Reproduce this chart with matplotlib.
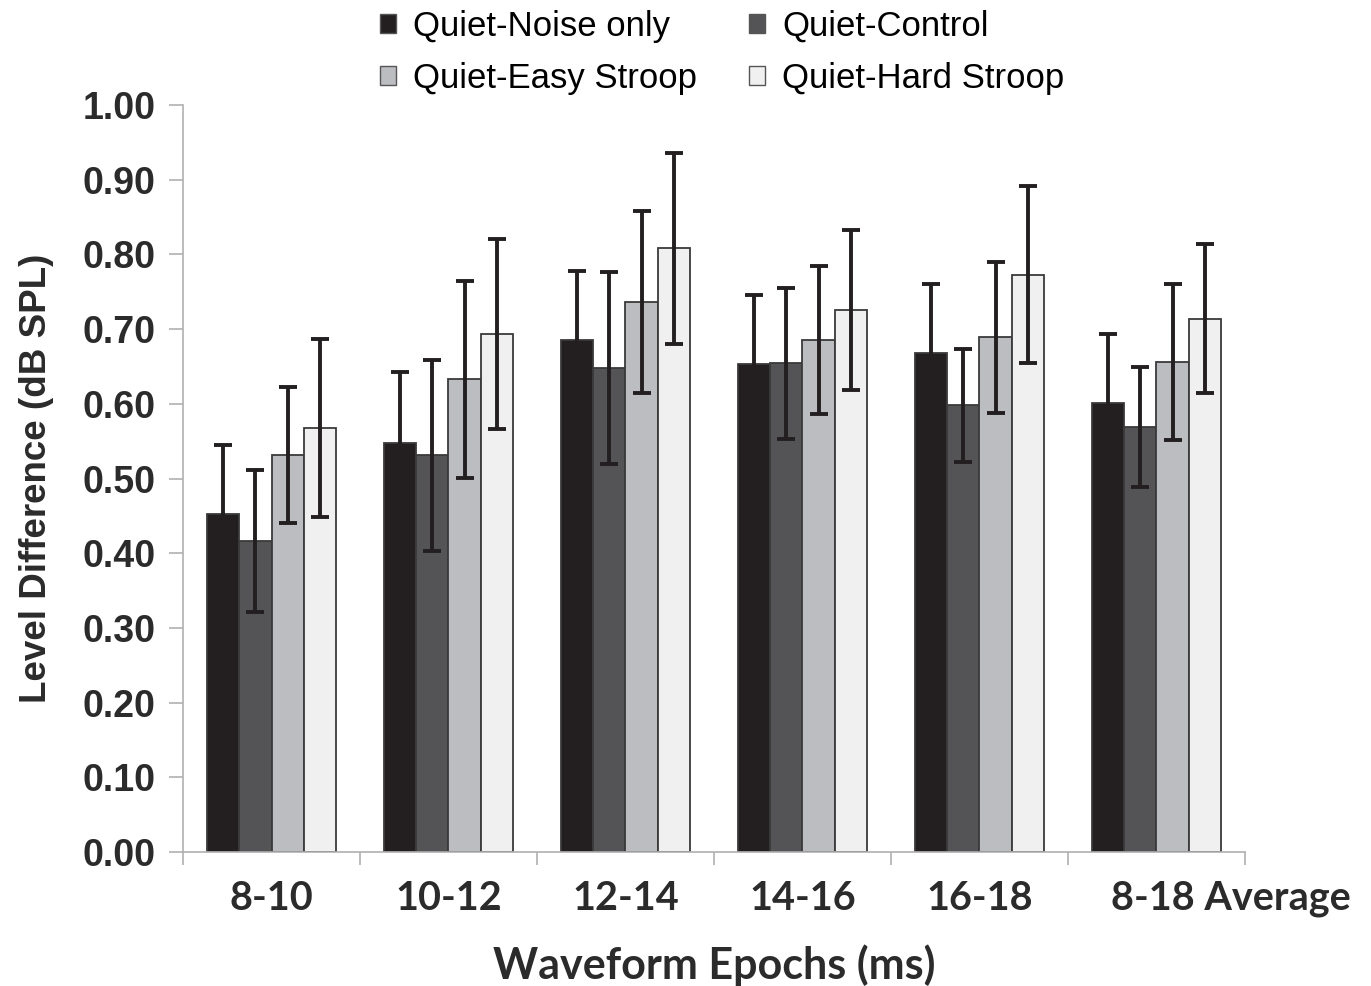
import numpy as np
import matplotlib.pyplot as plt
from matplotlib.patches import Patch
from matplotlib.transforms import ScaledTranslation

# Waveform epochs and the four listening conditions
epochs = ['8-10', '10-12', '12-14', '14-16', '16-18', '8-18 Average']
series_names = ['Quiet-Noise only', 'Quiet-Control', 'Quiet-Easy Stroop', 'Quiet-Hard Stroop']

noise_only = [0.452, 0.548, 0.685, 0.653, 0.668, 0.601]
noise_only_err = [0.093, 0.094, 0.093, 0.093, 0.092, 0.093]
control = [0.416, 0.531, 0.648, 0.654, 0.598, 0.569]
control_err = [0.095, 0.128, 0.128, 0.101, 0.076, 0.080]
easy_stroop = [0.531, 0.633, 0.736, 0.686, 0.689, 0.656]
easy_stroop_err = [0.091, 0.132, 0.122, 0.099, 0.101, 0.104]
hard_stroop = [0.568, 0.693, 0.808, 0.726, 0.773, 0.714]
hard_stroop_err = [0.119, 0.127, 0.128, 0.107, 0.119, 0.100]

values = [noise_only, control, easy_stroop, hard_stroop]
errors = [noise_only_err, control_err, easy_stroop_err, hard_stroop_err]
colors = ['#231f20', '#545356', '#bcbdc0', '#f0f0f0']

fig = plt.figure(figsize=(13.71, 9.86), dpi=100)
ax = fig.add_axes([0.1335, 0.1359, 0.7745, 0.7576])

x = np.arange(len(epochs))
width = 0.183
for i, (vals, errs) in enumerate(zip(values, errors)):
    pos = x + (i - 1.5) * width
    ax.bar(pos, vals, width, color=colors[i], edgecolor='#3a3a3a', linewidth=1.3, zorder=2)
    ax.errorbar(pos, vals, yerr=errs, fmt='none', ecolor='#231f20',
                elinewidth=2.8, capsize=6.5, capthick=2.8, zorder=3)

ax.set_xlim(-0.5, len(epochs) - 0.5)
ax.set_ylim(0, 1.0)
ax.set_yticks(np.arange(0, 1.01, 0.1))
ax.set_yticklabels(['%.2f' % v for v in np.arange(0, 1.01, 0.1)])

# category labels centred, tick marks on the group boundaries
ax.set_xticks(x)
ax.set_xticklabels(epochs)
ax.set_xticks(np.arange(-0.5, len(epochs)), minor=True)
ax.tick_params(axis='x', which='major', length=0, pad=20)
ax.tick_params(axis='x', which='minor', length=9, color='#b0b0b0', width=1.2, direction='out')
ax.tick_params(axis='y', length=10, color='#b0b0b0', width=1.2, pad=10)

for side in ['top', 'right']:
    ax.spines[side].set_visible(False)
for side in ['left', 'bottom']:
    ax.spines[side].set_color('#b0b0b0')
    ax.spines[side].set_linewidth(1.2)

for lab in ax.get_xticklabels():
    lab.set(family='Lato', weight='bold', size=28.5, color='#2b2b2b')
for lab in ax.get_yticklabels():
    lab.set(family='Liberation Sans', weight='bold', size=27, color='#2b2b2b')

# the last category label sits off-centre in the original
last = ax.get_xticklabels()[-1]
last.set_transform(last.get_transform() + ScaledTranslation(0.74, 0, fig.dpi_scale_trans))

ax.set_xlabel('Waveform Epochs (ms)', family='Lato', weight='bold', size=31,
              color='#2b2b2b', labelpad=20)
ax.set_ylabel('Level Difference (dB SPL)', family='Liberation Sans', weight='bold', size=26.5,
              color='#2b2b2b', labelpad=20)

order = [0, 2, 1, 3]
handles = [Patch(facecolor=colors[k], edgecolor='#555555', linewidth=1) for k in order]
labels = [series_names[k] for k in order]
fig.legend(handles, labels, ncol=2, loc='upper center',
           bbox_to_anchor=(0.527, 1.022), frameon=False,
           prop={'family': 'Liberation Sans', 'size': 25},
           handlelength=0.45, handleheight=0.45, handletextpad=0.5,
           columnspacing=1.5, labelspacing=0.55)

fig.savefig('out.png', dpi=100)
